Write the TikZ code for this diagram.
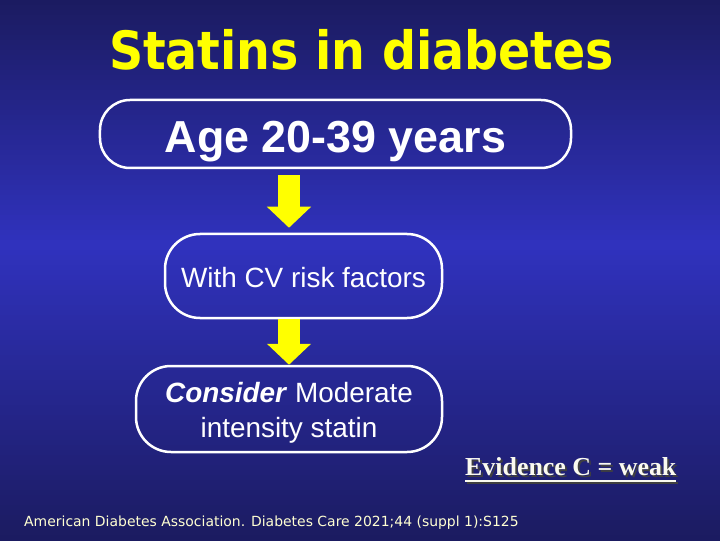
\documentclass[tikz,border=0pt]{standalone}
\usepackage{fontspec}
\setmainfont{Liberation Sans}
\newfontfamily\titlefont{DejaVu Sans Condensed}
\newfontfamily\citefont{DejaVu Sans}
\newfontfamily\evfont{Liberation Serif}
\usetikzlibrary{arrows.meta, calc}

\definecolor{bgedge}{RGB}{27,27,96}
\definecolor{bgmid}{RGB}{48,50,190}
\definecolor{arrowyellow}{RGB}{255,255,0}
\definecolor{titleyellow}{RGB}{255,255,0}
\definecolor{citecol}{RGB}{255,255,210}
\definecolor{evwhite}{RGB}{250,250,240}

\newsavebox{\evbox}
\newcommand{\evinner}{\sbox{\evbox}{Evidence C = weak}\rlap{\usebox{\evbox}}\rule[-6.5bp]{\wd\evbox}{1.8bp}}
\newcommand{\evline}{\rlap{\kern2bp\raisebox{-2bp}{\color{black!75}\evinner}}\evinner}

\tikzset{
  stepbox/.style={draw=white, line width=2.5bp, text=white, align=center},
  downarrow/.style={draw=arrowyellow, line width=22bp, -{Triangle[width=43bp,length=21bp]}}
}

\begin{document}
\begin{tikzpicture}[x=1bp, y=-1bp]
        \foreach \i in {0,...,107}{
            \pgfmathsetmacro\p{(\i*5+2.5 < 245) ? (\i*5+2.5)/245*100 : (540-\i*5-2.5)/295*100}
            \fill[bgmid!\p!bgedge] (0,\i*5) rectangle (720,\i*5+5.6);
        }
        \useasboundingbox (0,0) rectangle (720,540);

        \node[anchor=base, text=titleyellow, font=\titlefont\bfseries\fontsize{53}{60}\selectfont] (title) at (361.5,70) {Statins in diabetes};

        \node[stepbox, rounded corners=30bp, minimum width=471bp, minimum height=68bp,
              font=\bfseries\fontsize{45}{50}\selectfont, text height=37bp, text depth=0bp] (age) at (335.5,134) {Age 20-39 years};
        \node[stepbox, rounded corners=35bp, minimum width=277bp, minimum height=84bp,
              font=\fontsize{28}{35}\selectfont, text height=24bp, text depth=2bp] (risk) at (303.5,276) {With CV risk factors};
        \node[stepbox, rounded corners=35bp, minimum width=306bp, minimum height=86bp,
              font=\fontsize{28}{35}\selectfont] (consider) at (289,409) {\rule{0pt}{27bp}\textbf{\textit{Consider}} Moderate\\intensity statin};

        \draw[downarrow, shorten <=6bp, shorten >=5bp] (consider |- age.south) -- (consider |- risk.north);
        \draw[downarrow, shorten <=0bp] (consider |- risk.south) -- (consider.north);

        \node[anchor=base west, inner sep=0pt, text=evwhite, font=\evfont\bfseries\fontsize{26}{30}\selectfont] (evidence) at (465,475) {\evline};

        \node[anchor=base west, inner sep=0pt, text=citecol, font=\citefont\fontsize{14}{16}\selectfont] (cite) at (24,526) {American Diabetes Association. Diabetes Care 2021;44 (suppl 1):S125};
    \end{tikzpicture}
\end{document}
